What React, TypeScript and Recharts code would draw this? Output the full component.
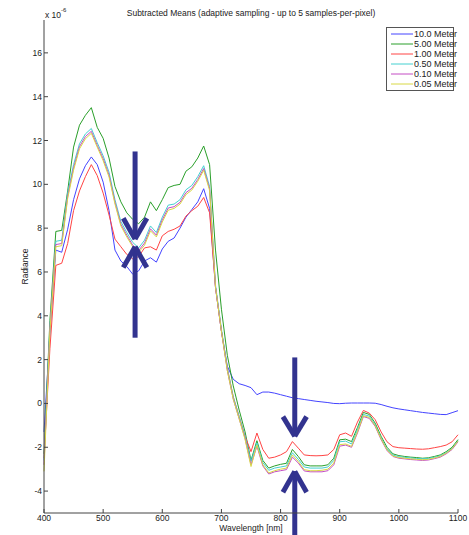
import { LineChart, Line, XAxis, YAxis, ReferenceLine } from 'recharts';

// wavelength samples [nm]
const wavelengths = [
  400, 410, 420, 430, 440, 450, 460, 470, 480, 490, 500, 510, 520, 530, 540, 550, 560, 570, 580, 590,
  600, 610, 620, 630, 640, 650, 660, 670, 680, 690, 700, 710, 720, 730, 740, 750, 760, 770, 780, 790,
  800, 810, 820, 830, 840, 850, 860, 870, 880, 890, 900, 910, 920, 930, 940, 950, 960, 970, 980, 990,
  1000, 1010, 1020, 1030, 1040, 1050, 1060, 1070, 1080, 1090, 1100,
];

// radiance x 1e-6
const meter10 = [
  -1.3, 3.2, 7.0, 6.9, 7.95, 9.3, 10.25, 10.85, 11.25, 10.9, 10.1, 8.8, 7.0, 6.5, 6.25, 5.9, 6.05, 6.5, 6.65, 6.45,
  7.05, 7.4, 7.55, 8.0, 8.5, 8.85, 9.2, 9.8, 8.9, 5.3, 3.3, 1.7, 1.1, 0.9, 0.82, 0.72, 0.4, 0.52, 0.52, 0.47,
  0.4, 0.33, 0.26, 0.22, 0.18, 0.14, 0.1, 0.07, 0.04, 0.0, -0.01, 0.01, 0.02, 0.02, 0.02, 0.02, 0.01, -0.05, -0.13, -0.2,
  -0.25, -0.29, -0.33, -0.37, -0.41, -0.44, -0.47, -0.5, -0.51, -0.42, -0.33,
];
const meter5 = [
  -2.3, 3.8, 7.85, 7.9, 9.7, 11.7, 12.7, 13.15, 13.5, 12.6, 12.1, 11.2, 9.9, 9.2, 8.7, 8.4, 8.2, 8.5, 9.2, 8.8,
  9.3, 9.85, 9.95, 10.0, 10.6, 10.8, 11.2, 11.75, 10.9, 7.0, 4.3, 2.2, 0.8, -0.3, -1.3, -2.6, -1.7, -2.6, -2.95, -2.85,
  -2.78, -2.73, -2.1, -2.42, -2.8, -2.85, -2.85, -2.85, -2.8, -2.5, -1.66, -1.63, -1.74, -1.1, -0.41, -0.5, -0.9, -1.5, -2.0, -2.3,
  -2.38, -2.42, -2.45, -2.47, -2.5, -2.48, -2.42, -2.35, -2.2, -2.0, -1.65,
];
const meter1 = [
  -2.5, 2.5, 6.3, 6.4, 7.3, 8.8, 9.7, 10.35, 10.9, 10.4, 9.6, 8.6, 7.5, 7.15, 6.8, 6.6, 6.7, 7.1, 7.15, 7.0,
  7.65, 7.85, 7.95, 8.1, 8.55, 8.8, 9.0, 9.4, 8.7, 5.3, 3.3, 1.6, 0.3, -0.6, -1.5, -2.2, -1.35, -2.1, -2.5, -2.45,
  -2.35, -2.2, -1.74, -2.04, -2.35, -2.38, -2.39, -2.38, -2.35, -2.1, -1.43, -1.35, -1.5, -0.85, -0.32, -0.44, -0.74, -1.3, -1.75, -1.97,
  -2.02, -2.04, -2.06, -2.08, -2.09, -2.07, -2.02, -1.97, -1.9, -1.75, -1.43,
];
const meter05 = [
  -2.6, 3.5, 7.4, 7.45, 9.6, 10.9, 11.85, 12.3, 12.55, 11.9, 11.3, 10.55, 9.3, 8.3, 7.8, 7.35, 7.1, 7.45, 8.1, 7.8,
  8.5, 9.05, 9.1, 9.3, 9.75, 9.95, 10.35, 10.85, 9.9, 5.4, 3.4, 1.6, 0.3, -0.6, -1.5, -2.65, -1.8, -2.7, -3.05, -2.95,
  -2.9, -2.85, -2.25, -2.55, -2.9, -2.95, -2.95, -2.95, -2.9, -2.6, -1.75, -1.72, -1.85, -1.2, -0.5, -0.58, -0.98, -1.58, -2.08, -2.36,
  -2.43, -2.46, -2.49, -2.51, -2.53, -2.51, -2.46, -2.39, -2.25, -2.05, -1.7,
];
const meter01 = [
  -2.8, 3.4, 7.25, 7.3, 9.45, 10.75, 11.72, 12.18, 12.42, 11.78, 11.17, 10.42, 9.18, 8.18, 7.68, 7.22, 6.98, 7.32, 7.97, 7.68,
  8.38, 8.92, 8.98, 9.18, 9.62, 9.82, 10.22, 10.72, 9.8, 5.3, 3.3, 1.5, 0.2, -0.7, -1.6, -2.8, -1.95, -2.85, -3.22, -3.12,
  -3.07, -3.02, -2.45, -2.72, -3.08, -3.12, -3.12, -3.12, -3.07, -2.8, -1.95, -1.9, -2.0, -1.35, -0.6, -0.68, -1.05, -1.65, -2.15, -2.42,
  -2.5, -2.53, -2.56, -2.58, -2.6, -2.58, -2.52, -2.45, -2.3, -2.1, -1.75,
];
const meter005 = [
  -3.1, 3.3, 7.15, 7.2, 9.35, 10.65, 11.62, 12.08, 12.33, 11.7, 11.08, 10.33, 9.1, 8.1, 7.6, 7.15, 6.9, 7.22, 7.88, 7.6,
  8.28, 8.82, 8.9, 9.1, 9.53, 9.74, 10.14, 10.64, 9.72, 5.3, 3.3, 1.5, 0.2, -0.7, -1.65, -2.88, -1.9, -2.8, -3.17, -3.07,
  -3.0, -2.95, -2.35, -2.65, -3.02, -3.07, -3.07, -3.05, -3.0, -2.72, -1.88, -1.85, -1.96, -1.3, -0.56, -0.64, -1.02, -1.62, -2.12, -2.4,
  -2.47, -2.5, -2.53, -2.55, -2.57, -2.55, -2.49, -2.42, -2.27, -2.07, -1.72,
];

const seriesNames = ['10.0 Meter', '5.00 Meter', '1.00 Meter', '0.50 Meter', '0.10 Meter', '0.05 Meter'];
const seriesValues = [meter10, meter5, meter1, meter05, meter01, meter005];
const seriesColors = ['#4444ff', '#2a9f2a', '#ff4444', '#44d0d0', '#c44cc4', '#d8d844'];

const xTicks = [400, 500, 600, 700, 800, 900, 1000, 1100];
const yTicks = [-4, -2, 0, 2, 4, 6, 8, 10, 12, 14, 16];

// annotation arrows: wavelength, shaft end, tip, wing level
const arrows = [
  { x: 554, tail: 11.5, tip: 7.5, wing: 8.45 },
  { x: 554, tail: 3.0, tip: 7.15, wing: 6.2 },
  { x: 824, tail: 2.1, tip: -1.5, wing: -0.6 },
  { x: 824, tail: -6.2, tip: -3.1, wing: -4.05 },
];

const data = wavelengths.map((w, i) => {
  const row: Record<string, number> = { w };
  seriesNames.forEach((name, s) => {
    row[name] = seriesValues[s][i];
  });
  return row;
});

const font = "'Liberation Sans Narrow', 'Liberation Sans', Arial, sans-serif";
const arrowColor = '#32338f';

function LegendBox() {
  return (
    <div
      style={{
        position: 'absolute',
        left: 386,
        top: 27,
        width: 66,
        border: '1px solid #555',
        background: '#fff',
        padding: '1px 0',
        fontFamily: font,
        fontSize: 9,
        color: '#222',
        whiteSpace: 'nowrap',
      }}
    >
      {seriesNames.map((name, i) => (
        <div key={name} style={{ display: 'flex', alignItems: 'center', height: 10 }}>
          <svg width={27} height={10} style={{ flex: 'none' }}>
            <line x1={4} y1={5} x2={26} y2={5} stroke={seriesColors[i]} strokeWidth={1} />
          </svg>
          <span style={{ lineHeight: '10px' }}>{name}</span>
        </div>
      ))}
    </div>
  );
}

export default function App() {
  return (
    <div style={{ position: 'absolute', left: 0, top: 0, width: 469, height: 535, background: '#fff', fontFamily: font }}>
      <LineChart width={469} height={535} data={data} margin={{ top: 20, right: 11, bottom: 0, left: 0 }}>
        <XAxis
          dataKey="w"
          type="number"
          domain={[400, 1100]}
          ticks={xTicks}
          height={22}
          stroke="#444"
          tickSize={-4}
          tickMargin={6}
          tick={{ fontSize: 8.5, fill: '#222', fontFamily: font }}
          label={{ value: 'Wavelength [nm]', position: 'insideBottom', offset: 4, fontSize: 8.5, fill: '#222', fontFamily: font }}
        />
        <YAxis
          type="number"
          domain={[-5, 17.5]}
          ticks={yTicks}
          width={44}
          stroke="#444"
          tickSize={-4}
          tickMargin={6}
          allowDataOverflow
          tick={{ fontSize: 8.5, fill: '#222', fontFamily: font }}
          label={{
            value: 'Radiance',
            angle: -90,
            position: 'insideLeft',
            offset: 25,
            fontSize: 8.5,
            fill: '#222',
            fontFamily: font,
            style: { textAnchor: 'middle' },
          }}
        />
        {seriesNames.map((name, i) => (
          <Line
            key={name}
            type="linear"
            dataKey={name}
            stroke={seriesColors[i]}
            strokeWidth={1}
            dot={false}
            activeDot={false}
            isAnimationActive={false}
          />
        ))}
        {arrows.map((a, i) => (
          <ReferenceLine
            key={`s${i}`}
            segment={[{ x: a.x, y: a.tail }, { x: a.x, y: a.tip }]}
            stroke={arrowColor}
            strokeWidth={5}
            ifOverflow="visible"
          />
        ))}
        {arrows.map((a, i) => (
          <ReferenceLine
            key={`l${i}`}
            segment={[{ x: a.x - 20, y: a.wing }, { x: a.x, y: a.tip }]}
            stroke={arrowColor}
            strokeWidth={5}
            ifOverflow="visible"
          />
        ))}
        {arrows.map((a, i) => (
          <ReferenceLine
            key={`r${i}`}
            segment={[{ x: a.x + 20, y: a.wing }, { x: a.x, y: a.tip }]}
            stroke={arrowColor}
            strokeWidth={5}
            ifOverflow="visible"
          />
        ))}
      </LineChart>
      <div
        style={{
          position: 'absolute',
          left: 44,
          width: 414,
          top: 8,
          textAlign: 'center',
          fontSize: 8.5,
          color: '#222',
        }}
      >
        Subtracted Means (adaptive sampling - up to 5 samples-per-pixel)
      </div>
      <div style={{ position: 'absolute', left: 45, top: 10, fontSize: 8.5, color: '#222' }}>
        x 10<sup style={{ fontSize: 6, verticalAlign: 'top', position: 'relative', top: -3 }}>-6</sup>
      </div>
      <LegendBox />
    </div>
  );
}
